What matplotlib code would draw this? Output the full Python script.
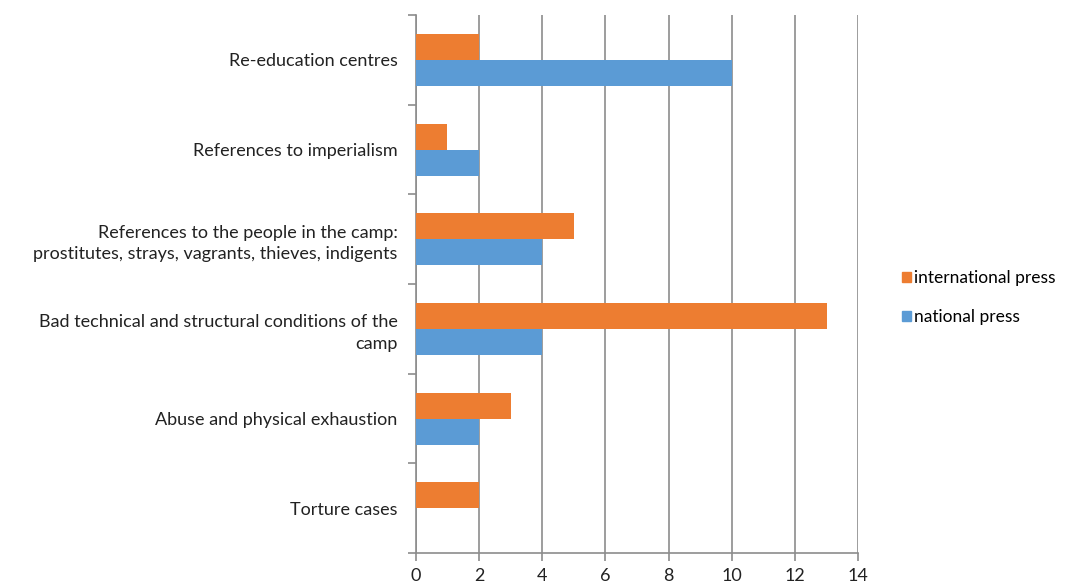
import numpy as np
import matplotlib
matplotlib.use("Agg")
import matplotlib.pyplot as plt
from matplotlib.patches import Patch

plt.rcParams['font.family'] = ['Lato', 'DejaVu Sans']

# categories from bottom to top
categories = [
    "Torture cases",
    "Abuse and physical exhaustion",
    "Bad technical and structural conditions of the\ncamp",
    "References to the people in the camp:\nprostitutes, strays, vagrants, thieves, indigents",
    "References to imperialism",
    "Re-education centres",
]
international = [2, 3, 13, 5, 1, 2]
national = [0, 2, 4, 4, 2, 10]
xticks = [0, 2, 4, 6, 8, 10, 12, 14]

orange = "#ED7D31"
blue = "#5B9BD5"
grey = "#8C8C8C"

fig = plt.figure(figsize=(10.70, 5.87), dpi=100)
ax = fig.add_axes([0.3885, 0.0579, 0.4135, 0.9165])

y = np.arange(len(categories))
h = 0.29
ax.barh(y + h / 2, international, height=h, color=orange, zorder=3)
ax.barh(y - h / 2, national, height=h, color=blue, zorder=3)

ax.set_xlim(0, 14)
ax.set_ylim(-0.5, len(categories) - 0.5)
ax.set_xticks(xticks)
ax.set_xticklabels([str(v) for v in xticks], fontsize=13, color="#222222")
ax.set_yticks(y)
ax.set_yticklabels(categories, fontsize=13, color="#222222", ha="right",
                   linespacing=1.4)
ax.set_yticks(np.arange(-0.5, len(categories)), minor=True)
ax.tick_params(axis="y", which="major", length=0, pad=13)
ax.tick_params(axis="y", which="minor", length=6, color=grey, width=1.2)
ax.tick_params(axis="x", length=6, color=grey, width=1.2, pad=5)

ax.grid(axis="x", color=grey, linewidth=1.2, zorder=0)
for s in ["top", "right"]:
    ax.spines[s].set_visible(False)
for s in ["left", "bottom"]:
    ax.spines[s].set_color(grey)
    ax.spines[s].set_linewidth(1.2)

handles = [Patch(color=orange, label="international press"),
           Patch(color=blue, label="national press")]
fig.legend(handles=handles, loc="center left", bbox_to_anchor=(0.828, 0.493),
           frameon=False, fontsize=12.5, handlelength=0.55, handleheight=0.55,
           handletextpad=0.15, labelspacing=1.35)

fig.savefig("out.png", dpi=100)
